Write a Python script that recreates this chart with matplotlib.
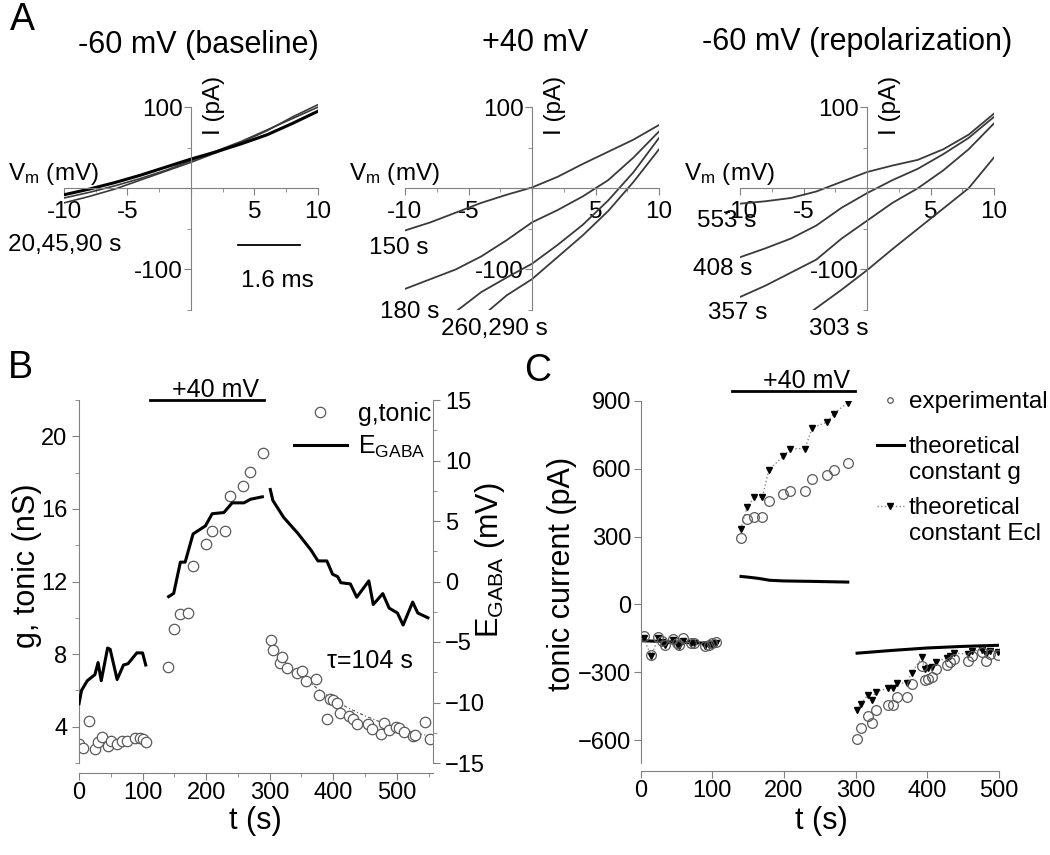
import matplotlib
matplotlib.use('Agg')
import matplotlib.pyplot as plt
from matplotlib.lines import Line2D

plt.rcParams['font.family'] = ['Liberation Sans', 'DejaVu Sans']
plt.rcParams['mathtext.fontset'] = 'custom'
plt.rcParams['mathtext.rm'] = 'Liberation Sans'
plt.rcParams['mathtext.default'] = 'regular'

W, H = 1050, 855
GRAY = '#808080'
TRACE = '#3a3a3a'

# ---------------- panel A: I-V ramps (Vm in mV, I in pA)
v_full = [-10, -8, -6, -4, -2, 0, 2, 4, 6, 8, 10]
base_black = [-8, -1, 7, 16, 26, 36, 45, 55, 66, 80, 95]
base_gray1 = [-18, -10, -1, 10, 21, 32, 44, 57, 71, 88, 103]
base_gray2 = [-12, -5, 3, 12, 22, 34, 46, 58, 72, 86, 100]

dep_150 = [-52, -42, -30, -18, -8, 1, 14, 30, 45, 60, 78]
dep_180 = [-124, -112, -100, -84, -64, -42, -27, -10, 10, 38, 70]
v_260 = [-6, -4, -2, 0, 2, 4, 6, 8, 10]
dep_260 = [-152, -128, -110, -93, -70, -45, -15, 20, 62]
v_290 = [-3.5, -2, 0, 2, 4, 6, 8, 10]
dep_290 = [-152, -132, -112, -85, -58, -28, 8, 48]

rep_553 = [-19, -16, -12, -4, 8, 20, 28, 35, 48, 66, 92]
rep_408 = [-85, -74, -62, -46, -24, -6, 10, 24, 42, 62, 88]
rep_357 = [-134, -120, -104, -88, -62, -40, -18, 0, 22, 48, 80]
v_303 = [-4.2, -2, 0, 2, 4, 6, 8, 10]
rep_303 = [-150, -125, -101, -75, -50, -25, 0, 38]

# ---------------- panel B: g tonic (nS) and E_GABA (mV) vs t (s)
g_t1 = [0, 6, 15, 25, 30, 36, 45, 50, 60, 67, 75, 88, 96, 100, 105]
g_v1 = [3.07, 2.85, 4.3, 2.76, 3.16, 3.45, 2.94, 3.2, 3.03, 3.2, 3.2, 3.4, 3.36, 3.3, 3.16]
g_t2 = [140, 149, 159, 171, 179, 200, 209.5, 229.5, 238, 258, 269, 289]
g_v2 = [7.29, 9.37, 10.2, 10.25, 12.84, 14.05, 14.78, 14.8, 16.7, 17.27, 18.04, 19.1]
g_t3 = [301.6, 305.8, 315.8, 320, 326.8, 342.6, 351.6, 356.9, 372.6, 377.9, 391, 395, 399,
        405.8, 411, 425.3, 430.6, 437.4, 455, 461, 475, 480.5, 487, 499, 503, 511, 525, 529,
        545, 551.6]
g_v3 = [8.78, 8.23, 7.5, 7.86, 7.23, 6.96, 7.05, 6.54, 6.63, 5.72, 4.44, 5.5, 5.45,
        5.3, 4.77, 4.57, 4.45, 4.16, 4.16, 3.85, 3.6, 4.22, 3.8, 3.98, 3.95, 3.73, 3.49, 3.55,
        4.26, 3.3]
fit_t = [300, 325, 350, 375, 400, 425, 450, 475, 500, 525, 550]
fit_g = [8.6, 7.6, 6.8, 6.1, 5.5, 5.0, 4.6, 4.25, 3.95, 3.7, 3.5]

e_t1 = [0, 4, 13, 25, 30, 35, 45, 49, 60, 70, 77, 91, 100, 105]
e_v1 = [-10.1, -9.0, -8.2, -7.7, -6.7, -8.2, -5.5, -5.6, -8.1, -6.9, -6.8, -5.9, -5.9, -6.9]
e_t2 = [141, 149, 159.5, 167, 179.5, 199, 209.5, 228, 241, 259.5, 270, 288.5]
e_v2 = [-1.25, -0.98, 1.6, 1.6, 3.93, 4.6, 5.6, 5.7, 6.5, 6.5, 6.8, 7.0]
e_t3 = [301, 305, 322, 344, 365, 376, 390, 399, 407, 412, 427, 437, 456, 463, 478, 488,
        501, 510, 525, 533, 549]
e_v3 = [7.6, 6.7, 5.3, 4.0, 2.6, 1.7, 1.7, 0.6, 0.4, -0.1, -0.2, -1.3, 0.05, -1.9, -1.0,
        -2.2, -2.6, -3.6, -1.7, -2.6, -3.0]
stim_B = [112, 291]

# ---------------- panel C: tonic current (pA) vs t (s)
c_t1 = [4, 15, 24, 30, 34, 45, 50, 54, 59, 70, 75, 90, 95, 100, 105]
c_exp1 = [-140, -222, -145, -160, -178, -152, -172, -180, -148, -168, -168, -182, -180, -172, -165]
c_ecl1 = [-150, -228, -150, -165, -180, -158, -175, -183, -160, -172, -172, -185, -180, -178, -170]
c_g_t1 = [0, 20, 40, 60, 80, 105]
c_g1 = [-160, -162, -165, -168, -170, -170]

c_t2 = [139.5, 148.8, 158.5, 169.7, 179, 199, 209, 229, 239.5, 259.5, 269.7, 288.8]
c_exp2 = [293, 376, 388, 388, 458, 490, 500, 500, 556, 571, 593, 625]
c_ecl2 = [332, 432, 473, 473, 596, 654, 688, 688, 780, 805, 842, 892]
c_g_t2 = [140, 152, 165, 180, 200, 240, 289]
c_g2 = [124, 120, 115, 107, 104, 102, 99]

c_t3 = [301.4, 307.4, 316.7, 322.3, 327.9, 345.5, 352.5, 357.2, 371, 378, 392, 396.7, 401,
        407, 412, 427, 431.5, 437.6, 457, 463, 476, 482, 488, 499]
c_exp3 = [-593, -546, -493, -522, -468, -443, -443, -410, -410, -351, -271, -334, -329,
          -319, -285, -268, -256, -241, -249, -227, -212, -249, -219, -224]
c_ecl3 = [-464, -439, -400, -420, -385, -370, -370, -347, -347, -303, -234, -285, -281,
          -274, -252, -238, -227, -215, -219, -205, -201, -219, -205, -210]
c_g_t3 = [302, 350, 400, 450, 501]
c_g3 = [-215, -203, -192, -185, -180]
stim_C = [128, 299]


def rect(l, t, r, b):
    return [l / W, 1 - b / H, (r - l) / W, (b - t) / H]


fig = plt.figure(figsize=(W / 100, H / 100), dpi=100)


def iv_axes(left):
    ax = fig.add_axes(rect(left, 99, left + 254, 310))
    ax.set_xlim(-10, 10)
    ax.set_ylim(-150, 110)
    ax.patch.set_visible(False)
    ax.spines['top'].set_visible(False)
    ax.spines['right'].set_visible(False)
    ax.spines['left'].set_position(('data', 0))
    ax.spines['bottom'].set_position(('data', 0))
    ax.spines['left'].set_bounds(-150, 100)
    ax.spines['bottom'].set_bounds(-10, 10)
    for s in ['left', 'bottom']:
        ax.spines[s].set_color(GRAY)
    ax.set_xticks([-10, -5, 0, 5, 10])
    ax.set_xticklabels(['-10', '-5', '', '5', '10'])
    ax.set_xticks([-7.5, -2.5, 2.5, 7.5], minor=True)
    ax.set_yticks([-100, 0, 100])
    ax.set_yticklabels(['-100', '', '100'])
    ax.set_yticks([-150, -50, 50], minor=True)
    ax.tick_params(which='both', colors=GRAY, labelcolor='black', labelsize=17.5)
    ax.tick_params(which='major', length=5, pad=1)
    ax.tick_params(which='minor', length=3)
    ax.tick_params(axis='x', pad=4)
    ax.text(-14.4, 18, 'V$_{m}$ (mV)', fontsize=17.5, ha='left', va='center')
    ax.text(1.8, 102, 'I (pA)', fontsize=17.5, rotation=90, ha='center', va='center')
    return ax


# A1 baseline
a1 = iv_axes(64)
a1.plot(v_full, base_gray1, color=TRACE, lw=1.2)
a1.plot(v_full, base_gray2, color=TRACE, lw=1.2)
a1.plot(v_full, base_black, color='black', lw=2.2)
a1.plot([3.7, 8.6], [-70, -70], color='black', lw=1.3, clip_on=False)
a1.text(6.8, -114, '1.6 ms', fontsize=17.5, ha='center', va='center')
a1.text(-14.4, -70, '20,45,90 s', fontsize=17.5, ha='left', va='center')

# A2 +40 mV
a2 = iv_axes(405)
for v, i in [(v_full, dep_150), (v_full, dep_180), (v_260, dep_260), (v_290, dep_290)]:
    a2.plot(v, i, color=TRACE, lw=1.3)
a2.text(-12.8, -74, '150 s', fontsize=17.5, ha='left', va='center')
a2.text(-12.0, -153, '180 s', fontsize=17.5, ha='left', va='center')
a2.text(-7.2, -173, '260,290 s', fontsize=17.5, ha='left', va='center')

# A3 repolarization
a3 = iv_axes(740)
for v, i in [(v_full, rep_553), (v_full, rep_408), (v_full, rep_357), (v_303, rep_303)]:
    a3.plot(v, i, color=TRACE, lw=1.3)
a3.text(-13.4, -40, '553 s', fontsize=17.5, ha='left', va='center')
a3.text(-13.7, -99, '408 s', fontsize=17.5, ha='left', va='center')
a3.text(-12.5, -154, '357 s', fontsize=17.5, ha='left', va='center')
a3.text(-4.6, -173, '303 s', fontsize=17.5, ha='left', va='center')

fig.text(198 / W, 1 - 45 / H, '-60 mV (baseline)', fontsize=22, ha='center', va='center')
fig.text(535 / W, 1 - 43 / H, '+40 mV', fontsize=22, ha='center', va='center')
fig.text(857 / W, 1 - 42 / H, '-60 mV (repolarization)', fontsize=22, ha='center', va='center')

# ---------------- panel B
axB = fig.add_axes(rect(79, 400, 433, 763))
axB.set_xlim(0, 557)
axB.set_ylim(2, 22)
axB.spines['top'].set_visible(False)
axB.spines['right'].set_visible(False)
axB.spines['bottom'].set_position(('outward', 7))
for s in ['left', 'bottom']:
    axB.spines[s].set_color(GRAY)
axB.set_xticks([0, 100, 200, 300, 400, 500])
axB.set_xticks(range(50, 560, 100), minor=True)
axB.set_yticks([4, 8, 12, 16, 20])
axB.set_yticks([2, 6, 10, 14, 18, 22], minor=True)
axB.tick_params(which='both', colors=GRAY, labelcolor='black', labelsize=17)
axB.tick_params(which='major', length=5)
axB.tick_params(which='minor', length=3)
axB.tick_params(axis='x', pad=1.5)

circ = dict(ls='none', marker='o', ms=7.5, mfc='white', mec='#5a5a5a', mew=0.9)
axB.plot(fit_t, fit_g, color='#555555', lw=0.8, ls=(0, (3, 2, 1, 2)))
axB.plot(g_t1, g_v1, **circ)
axB.plot(g_t2, g_v2, **circ)
axB.plot(g_t3, g_v3, **circ)
axB.set_ylabel('g, tonic (nS)', fontsize=22)
axB.yaxis.set_label_coords(-0.105, 0.543)
axB.set_xlabel('t (s)', fontsize=22)
axB.xaxis.set_label_coords(0.497, -0.118)
axB.plot(stim_B, [22, 22], color='black', lw=2, clip_on=False)
axB.text(215, 22.16, '+40 mV', fontsize=18, ha='center', va='baseline')
axB.text(458, 7.6, 'τ=104 s', fontsize=18, ha='center', va='center')

axE = axB.twinx()
axE.set_ylim(-15, 15)
for s in ['left', 'top', 'bottom']:
    axE.spines[s].set_visible(False)
axE.spines['right'].set_color(GRAY)
axE.set_yticks([-15, -10, -5, 0, 5, 10, 15])
axE.set_yticks([-12.5, -7.5, -2.5, 2.5, 7.5, 12.5], minor=True)
axE.tick_params(which='both', colors=GRAY, labelcolor='black', labelsize=17)
axE.tick_params(which='major', length=5)
axE.tick_params(which='minor', length=3)
for t, e in [(e_t1, e_v1), (e_t2, e_v2), (e_t3, e_v3)]:
    axE.plot(t, e, color='black', lw=2.2)
axE.set_ylabel('E$_{GABA}$ (mV)', fontsize=22)
axE.yaxis.set_label_coords(1.113, 0.559)

hB = [Line2D([], [], **circ), Line2D([], [], color='black', lw=2.2)]
fig.legend(hB, ['g,tonic', 'E$_{GABA}$'], loc='upper left', bbox_to_anchor=(294 / W, 1 - 402 / H),
           frameon=False, fontsize=18, handlelength=2.1, handletextpad=0.45, borderpad=0,
           borderaxespad=0, labelspacing=0.3)

# ---------------- panel C
axC = fig.add_axes(rect(640.7, 400.7, 999, 763))
axC.set_xlim(0, 500)
axC.set_ylim(-700, 900)
axC.spines['top'].set_visible(False)
axC.spines['right'].set_visible(False)
axC.spines['bottom'].set_position(('outward', 6))
for s in ['left', 'bottom']:
    axC.spines[s].set_color(GRAY)
axC.set_xticks([0, 100, 200, 300, 400, 500])
axC.set_xticks([50, 150, 250, 350, 450], minor=True)
axC.set_yticks([-600, -300, 0, 300, 600, 900])
axC.set_yticks([-450, -150, 150, 450, 750], minor=True)
axC.tick_params(which='both', colors=GRAY, labelcolor='black', labelsize=17)
axC.tick_params(which='major', length=5)
axC.tick_params(which='minor', length=0)
axC.tick_params(axis='x', pad=1.5)
axC.tick_params(axis='y', pad=2)

circC = dict(ls='none', marker='o', ms=7, mfc='none', mec='#5a5a5a', mew=0.9)
tri = dict(color='#888888', ls=':', lw=1, marker='v', ms=5, mfc='black', mec='black')
for t, e, c, gt, g in [(c_t1, c_exp1, c_ecl1, c_g_t1, c_g1),
                       (c_t2, c_exp2, c_ecl2, c_g_t2, c_g2),
                       (c_t3, c_exp3, c_ecl3, c_g_t3, c_g3)]:
    axC.plot(gt, g, color='black', lw=2.2)
    axC.plot(t, c, **tri)
    axC.plot(t, e, **circC)
axC.set_ylabel('tonic current (pA)', fontsize=22)
axC.yaxis.set_label_coords(-0.178, 0.522)
axC.set_xlabel('t (s)', fontsize=22)
axC.xaxis.set_label_coords(0.503, -0.118)
axC.plot(stim_C, [942, 942], color='black', lw=2, clip_on=False)
axC.text(232, 956, '+40 mV', fontsize=18, ha='center', va='baseline')

leg_kw = dict(loc='upper left', frameon=False, fontsize=17.5, handlelength=1.1,
              handletextpad=0.2, borderpad=0, borderaxespad=0, labelspacing=0.15)
blank = Line2D([], [], ls='none')
fig.legend([Line2D([], [], ls='none', marker='o', ms=4, mfc='none', mec='#5a5a5a', mew=0.9)],
           ['experimental'], bbox_to_anchor=(877 / W, 1 - 391 / H), **leg_kw)
fig.legend([Line2D([], [], color='black', lw=2.2), blank], ['theoretical', 'constant g'],
           bbox_to_anchor=(877 / W, 1 - 436 / H), **leg_kw)
fig.legend([Line2D([], [], **tri), blank], ['theoretical', 'constant Ecl'],
           bbox_to_anchor=(877 / W, 1 - 497 / H), **leg_kw)

fig.text(22 / W, 1 - 20 / H, 'A', fontsize=27, ha='center', va='center')
fig.text(20 / W, 1 - 368 / H, 'B', fontsize=27, ha='center', va='center')
fig.text(538 / W, 1 - 371 / H, 'C', fontsize=27, ha='center', va='center')

fig.savefig('out.png', dpi=100)
